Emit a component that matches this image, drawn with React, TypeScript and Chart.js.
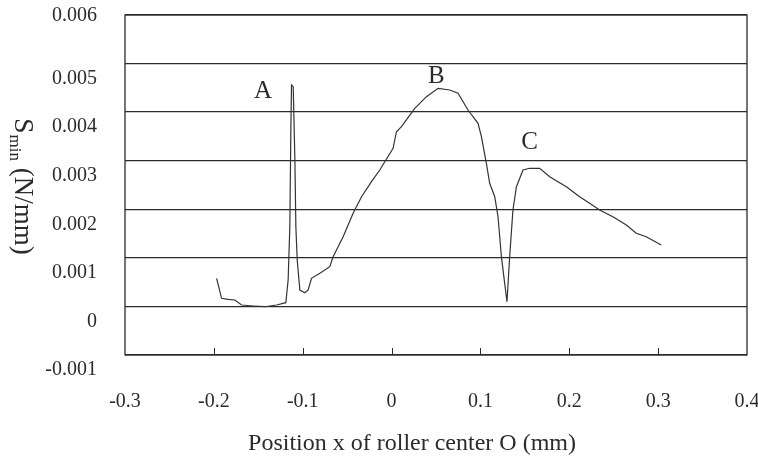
import { useEffect, useRef } from "react";
import { Chart, registerables } from "chart.js";

Chart.register(...registerables);

// Position x of roller center O (mm)
const xValues = [
  -0.1969, -0.1913, -0.1838, -0.1763, -0.1688, -0.1557, -0.1426, -0.1294, -0.119, -0.1164,
  -0.1145, -0.1133, -0.1126, -0.1107, -0.1088, -0.1077, -0.1062, -0.1032, -0.0976, -0.0939,
  -0.0901, -0.0807, -0.0695, -0.0658, -0.0545, -0.0433, -0.0338, -0.0226, -0.0133, 0.0017,
  0.0055, 0.0111, 0.0261, 0.0393, 0.0523, 0.0655, 0.0748, 0.086, 0.0973, 0.1011,
  0.1067, 0.1104, 0.1161, 0.1198, 0.1236, 0.1273, 0.1299, 0.1329, 0.1366, 0.1405,
  0.1479, 0.1554, 0.1667, 0.1779, 0.1967, 0.2116, 0.2229, 0.2341, 0.2491, 0.2642,
  0.2754, 0.2866, 0.3035,
];
// S_min (N/mm)
const yValues = [
  0.000579, 0.000167, 0.000147, 0.000132, 0.000029, 0.000009, -0.000006, 0.000029, 0.000077, 0.000544,
  0.001641, 0.0037, 0.004559, 0.004524, 0.003015, 0.001641, 0.000956, 0.000338, 0.000283, 0.000338,
  0.000579, 0.000682, 0.000818, 0.001024, 0.001436, 0.001917, 0.002259, 0.002568, 0.002809, 0.003256,
  0.003597, 0.0037, 0.004079, 0.004318, 0.004491, 0.004456, 0.004388, 0.004044, 0.00377, 0.003494,
  0.002947, 0.002535, 0.002259, 0.001847, 0.001024, 0.000476, 0.000097, 0.001024, 0.001985, 0.002465,
  0.002809, 0.002844, 0.002844, 0.002671, 0.002465, 0.002259, 0.002123, 0.001985, 0.001847, 0.001676,
  0.001506, 0.001436, 0.001265,
];

const xTicks = [-0.3, -0.2, -0.1, 0, 0.1, 0.2, 0.3, 0.4];
const xTickLabels = ["-0.3", "-0.2", "-0.1", "0", "0.1", "0.2", "0.3", "0.4"];
const yTicks = [-0.001, 0, 0.001, 0.002, 0.003, 0.004, 0.005, 0.006];
const yTickLabels = ["-0.001", "0", "0.001", "0.002", "0.003", "0.004", "0.005", "0.006"];

const peakNames = ["A", "B", "C"];
const peakX = [-0.1448, 0.0503, 0.1554];
const peakY = [0.004435, 0.004744, 0.003375];

const xTitle = "Position x of roller center O (mm)";
const yTitleMain = "S";
const yTitleSub = "min";
const yTitleUnit = " (N/mm)";

const FONT = "'Liberation Serif', 'Times New Roman', serif";
const INK = "#2b2b2b";

const decor = {
  id: "decor",
  afterDraw(chart: any) {
    const { ctx, chartArea: a, scales } = chart;
    const xs = scales.x;
    const ys = scales.y;
    ctx.save();
    // frame
    ctx.strokeStyle = INK;
    ctx.lineWidth = 1.3;
    ctx.strokeRect(a.left, a.top, a.right - a.left, a.bottom - a.top);
    // inner tick marks on x axis
    ctx.lineWidth = 1;
    xTicks.forEach((v) => {
      if (v > xs.min && v < xs.max) {
        const px = Math.round(xs.getPixelForValue(v)) + 0.5;
        ctx.beginPath();
        ctx.moveTo(px, a.bottom);
        ctx.lineTo(px, a.bottom - 7);
        ctx.stroke();
      }
    });
    // y tick labels
    ctx.fillStyle = INK;
    ctx.font = `20px ${FONT}`;
    ctx.textAlign = "right";
    ctx.textBaseline = "middle";
    yTicks.forEach((v, i) => {
      const py = ys.getPixelForValue(v);
      const off = v >= ys.max ? 1 : 15;
      ctx.fillText(yTickLabels[i], a.left - 28, py + off);
    });
    // peak annotations
    ctx.font = `25px ${FONT}`;
    ctx.textAlign = "center";
    peakNames.forEach((n, i) => {
      ctx.fillText(n, xs.getPixelForValue(peakX[i]), ys.getPixelForValue(peakY[i]));
    });
    // x title
    ctx.font = `24px ${FONT}`;
    ctx.textAlign = "center";
    ctx.fillText(xTitle, 412, 444);
    // y title (rotated clockwise)
    ctx.translate(15, 118);
    ctx.rotate(Math.PI / 2);
    ctx.textAlign = "left";
    ctx.textBaseline = "alphabetic";
    ctx.font = `28px ${FONT}`;
    ctx.fillText(yTitleMain, 0, 0);
    let w = ctx.measureText(yTitleMain).width;
    ctx.font = `17px ${FONT}`;
    ctx.fillText(yTitleSub, w + 1, 5);
    w += 1 + ctx.measureText(yTitleSub).width;
    ctx.font = `27px ${FONT}`;
    ctx.fillText(yTitleUnit, w, 0);
    ctx.restore();
  },
};

export default function App() {
  const ref = useRef<HTMLCanvasElement>(null);
  useEffect(() => {
    if (!ref.current) return;
    const chart = new Chart(ref.current, {
      type: "line",
      data: {
        datasets: [
          {
            data: xValues.map((x, i) => ({ x, y: yValues[i] })),
            borderColor: "#333",
            borderWidth: 1.2,
            pointRadius: 0,
            tension: 0,
            fill: false,
          },
        ],
      },
      options: {
        animation: false,
        responsive: true,
        maintainAspectRatio: false,
        layout: { padding: { left: 0, right: 11, top: 15, bottom: 0 } },
        plugins: { legend: { display: false }, tooltip: { enabled: false } },
        scales: {
          x: {
            type: "linear",
            min: -0.3,
            max: 0.4,
            afterBuildTicks: (s: any) => {
              s.ticks = xTicks.map((value) => ({ value }));
            },
            afterFit: (s: any) => {
              s.height = 106;
              s.paddingLeft = 0;
              s.paddingRight = 0;
            },
            grid: { display: false },
            border: { display: false },
            ticks: {
              color: INK,
              font: { family: FONT, size: 20 },
              padding: 27,
              maxRotation: 0,
              autoSkip: false,
              callback: (_v: any, i: number) => xTickLabels[i],
            },
          },
          y: {
            type: "linear",
            min: -0.001,
            max: 0.006,
            afterBuildTicks: (s: any) => {
              s.ticks = yTicks.map((value) => ({ value }));
            },
            afterFit: (s: any) => {
              s.width = 125;
              s.paddingTop = 0;
              s.paddingBottom = 0;
            },
            grid: { color: INK, lineWidth: 1.3, drawTicks: false },
            border: { display: false },
            ticks: { display: false },
          },
        },
      },
      plugins: [decor],
    });
    return () => chart.destroy();
  }, []);
  return (
    <div style={{ position: "fixed", left: 0, top: 0, width: 758, height: 461, background: "#fff" }}>
      <canvas ref={ref} />
    </div>
  );
}
